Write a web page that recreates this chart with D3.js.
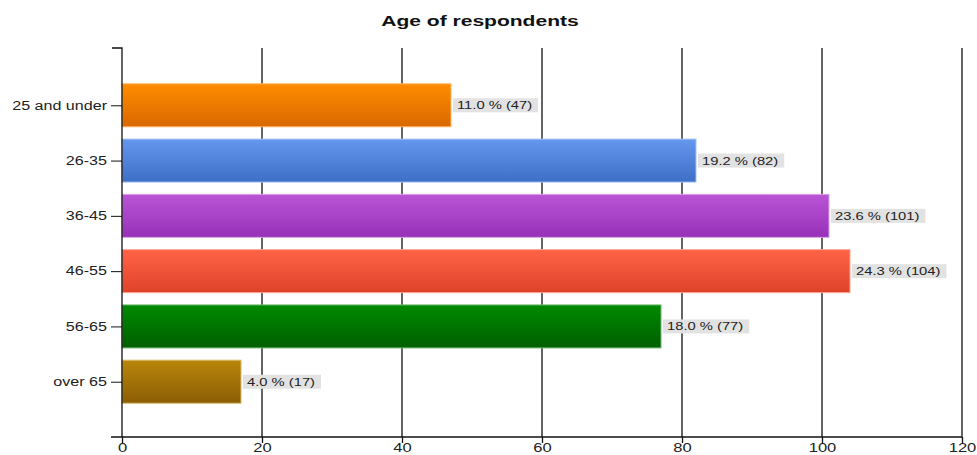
<!DOCTYPE html>
<html>
<head>
<meta charset="utf-8">
<script src="https://cdn.jsdelivr.net/npm/d3@7"></script>
<style>
  html, body { margin: 0; padding: 0; background: #fff; }
  svg { display: block; font-family: "Liberation Sans", Arial, sans-serif; }
</style>
</head>
<body>
<svg id="chart" width="977" height="455"></svg>
<script>
// Survey: age groups of respondents
const categories = ["25 and under", "26-35", "36-45", "46-55", "56-65", "over 65"];
const counts = [47, 82, 101, 104, 77, 17];
const percents = [11.0, 19.2, 23.6, 24.3, 18.0, 4.0];
const xTicks = [0, 20, 40, 60, 80, 100, 120];
// top / bottom colours of each bar's gradient
const topColors = ["#ff8c00", "#6697ee", "#bb55d6", "#ff6347", "#008a00", "#b8860b"];
const bottomColors = ["#d96800", "#3d6fc6", "#9630b8", "#de4229", "#005f00", "#8c5e04"];
const edgeColors = ["#ffb766", "#a9c2f2", "#d9a2e8", "#ffa595", "#6fb86f", "#d8b868"];

const svg = d3.select("#chart");
const top0 = 50, plotBottom = 437, left0 = 122, right0 = 962;

const x = d3.scaleLinear().domain([0, 120]).range([left0, right0]);
const y = d3.scalePoint().domain(categories).range([top0, plotBottom]).padding(1);
const barH = 43;

// widen text horizontally (wide sans look)
function stretch(sel, k) {
  sel.each(function () {
    const len = this.getComputedTextLength();
    d3.select(this).attr("textLength", len * k).attr("lengthAdjust", "spacingAndGlyphs");
  });
}

// gradients
const defs = svg.append("defs");
categories.forEach((c, i) => {
  const g = defs.append("linearGradient")
    .attr("id", "grad" + i).attr("x1", 0).attr("y1", 0).attr("x2", 0).attr("y2", 1);
  g.append("stop").attr("offset", "0%").attr("stop-color", topColors[i]);
  g.append("stop").attr("offset", "100%").attr("stop-color", bottomColors[i]);
});

// title
const title = svg.append("text")
  .attr("x", 480).attr("y", 26)
  .attr("text-anchor", "middle")
  .attr("font-size", 14.5).attr("font-weight", "bold")
  .attr("fill", "#111")
  .text("Age of respondents");
stretch(title, 1.45);

// vertical grid lines
svg.append("g").selectAll("line")
  .data(xTicks.filter(t => t > 0))
  .join("line")
  .attr("x1", d => x(d)).attr("x2", d => x(d))
  .attr("y1", top0 - 2).attr("y2", plotBottom)
  .attr("stroke", "#111").attr("stroke-width", 1.3);

// bars
svg.append("g").selectAll("rect")
  .data(categories)
  .join("rect")
  .attr("x", x(0))
  .attr("y", d => y(d) - barH / 2)
  .attr("width", (d, i) => x(counts[i]) - x(0))
  .attr("height", barH)
  .attr("fill", (d, i) => `url(#grad${i})`)
  .attr("stroke", (d, i) => edgeColors[i])
  .attr("stroke-width", 1);

// value labels
const labels = svg.append("g").attr("font-size", 11).attr("fill", "#222");
categories.forEach((c, i) => {
  const txt = `${percents[i].toFixed(1)} % (${counts[i]})`;
  const gx = x(counts[i]) + 2;
  const lg = labels.append("g");
  const bg = lg.append("rect").attr("fill", "#e2e2e2");
  const t = lg.append("text")
    .attr("x", gx + 4).attr("y", y(c) + 4)
    .text(txt);
  stretch(t, 1.34);
  const w = +t.attr("textLength");
  bg.attr("x", gx).attr("y", y(c) - 7).attr("width", w + 10).attr("height", 14);
});

// y axis
const yAxis = d3.axisLeft(y).tickSize(11).tickPadding(4);
const gy = svg.append("g").attr("transform", `translate(${x(0)},0)`).call(yAxis);
gy.select(".domain").attr("stroke", "#111").attr("stroke-width", 1.3)
  .attr("d", `M-10,${top0 - 2}H0V${plotBottom}`);
gy.selectAll(".tick line").attr("stroke", "#111");
gy.selectAll(".tick text").attr("font-size", 12).attr("fill", "#222")
  .attr("font-family", "Liberation Sans, Arial, sans-serif");
stretch(gy.selectAll(".tick text"), 1.34);

// x axis
const xAxis = d3.axisBottom(x).tickValues(xTicks).tickSize(6).tickPadding(0);
const gx = svg.append("g").attr("transform", `translate(0,${plotBottom})`).call(xAxis);
gx.select(".domain").attr("stroke", "#111").attr("stroke-width", 1.3)
  .attr("d", `M${x(0) - 11},0H${x(120)}`);
gx.selectAll(".tick line").attr("stroke", "#111").attr("stroke-width", 1.3);
gx.selectAll(".tick text").attr("font-size", 12).attr("fill", "#222")
  .attr("font-family", "Liberation Sans, Arial, sans-serif");
stretch(gx.selectAll(".tick text"), 1.38);
</script>
</body>
</html>
